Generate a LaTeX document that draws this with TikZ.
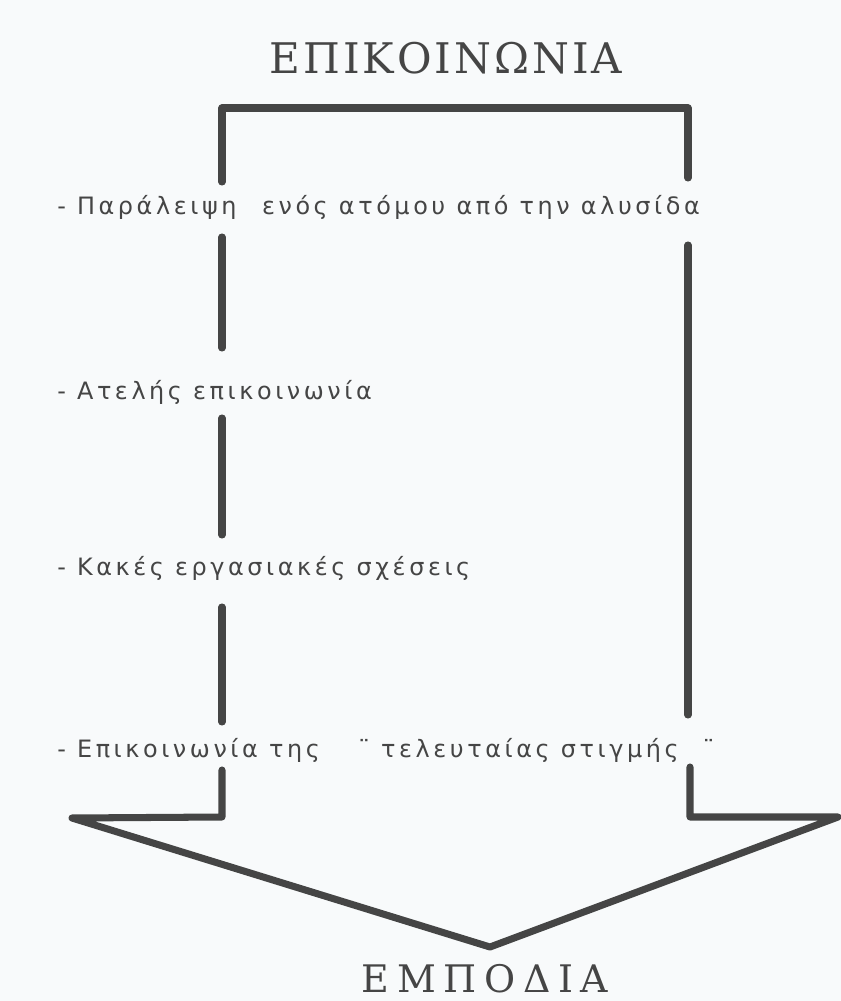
\documentclass[tikz,border=0pt]{standalone}
\usepackage{fontspec}
\setmainfont{DejaVu Sans}
\newfontfamily\itemfont[LetterSpace=15]{DejaVu Sans}
\newfontfamily\headfont[LetterSpace=7]{DejaVu Serif}
\newfontfamily\footfont[LetterSpace=20]{DejaVu Serif}
\usetikzlibrary{positioning}
\definecolor{ink}{HTML}{454545}
\definecolor{paper}{HTML}{F8FAFB}

\begin{document}
\begin{tikzpicture}[x=0.025cm, y=-0.025cm,
    bar/.style={line width=5pt, draw=ink, line cap=round, line join=round},
    itm/.style={anchor=west, inner sep=0pt, text=ink, font=\itemfont\fontsize{17}{20}\selectfont},
    ttl/.style={inner sep=0pt, text=ink, font=\headfont\fontsize{30}{34}\selectfont}
]
\fill[paper] (0,0) rectangle (841,1001);
\useasboundingbox (0,0) rectangle (841,1001);

% titles
\node[ttl] (epik) at (446,58) {ΕΠΙΚΟΙΝΩΝΙΑ};
\node[ttl, anchor=base, font=\footfont\fontsize{27}{30}\selectfont] (empod) at (485,992) {ΕΜΠΟΔΙΑ};

% items
\node[itm] (par) at (57,207) {- Παράλειψη\hspace{0.6em} ενός ατόμου από την αλυσίδα};
\node[itm] (atel) at (57,392) {- Ατελής επικοινωνία};
\node[itm] (kak) at (57,568) {- Κακές εργασιακές σχέσεις};
\node[itm] (tel) at (57,750) {- Επικοινωνία της\hspace{1.6em}¨ τελευταίας στιγμής\hspace{1em}¨};

% left side
\coordinate (la) at (222,182);
\coordinate (lb) at (222,108);
\coordinate (rb) at (688,108);
\coordinate (ra) at (688,178);
\draw[bar] (la) -- (lb) -- (rb) -- (ra);
\draw[bar] (222,237) -- (222,348);
\draw[bar] (222,418) -- (222,535);
\draw[bar] (222,607) -- (222,722);
% right side
\draw[bar] (688,245) -- (688,715);
% head
\coordinate (hl) at (72,818);
\coordinate (tip) at (490,947);
\coordinate (hr) at (838,817);
\draw[bar] (222,770) -- (222,817) -- (hl) -- (tip) -- (hr) -- (690,817) -- (690,767);
\end{tikzpicture}
\end{document}
